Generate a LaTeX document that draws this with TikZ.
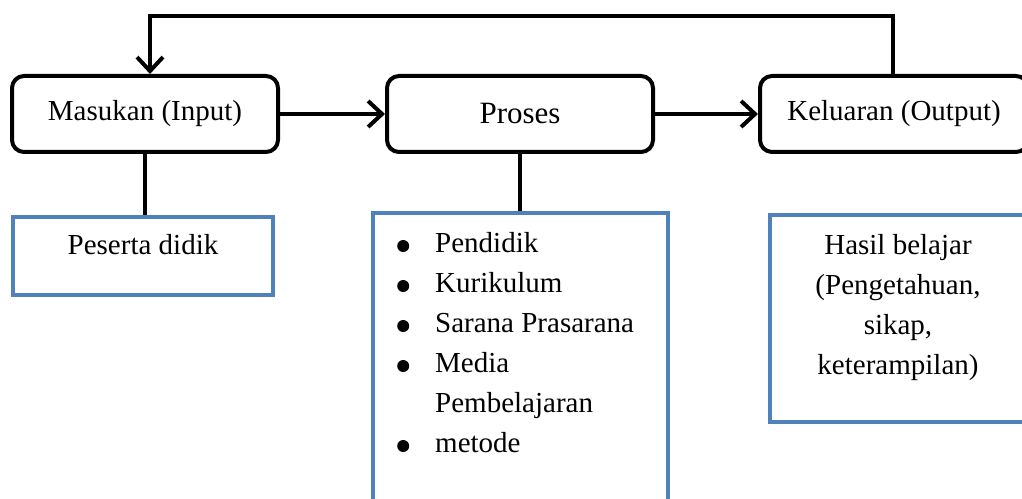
\documentclass[tikz,border=0pt]{standalone}
\usepackage{fontspec}
\setmainfont{Liberation Serif}
\usetikzlibrary{arrows.meta,calc}
\definecolor{boxblue}{RGB}{79,129,189}
\newcommand{\bigbul}{\tikz[baseline=-7pt]\fill[black] (0,0) circle (6pt);}
\tikzset{
  mainbox/.style={draw=black, line width=4pt, rounded corners=12pt, fill=white,
    minimum height=76pt, inner sep=0pt, font=\fontsize{29}{36}\selectfont},
  bluebox/.style={draw=boxblue, line width=4pt, fill=white, inner sep=0pt},
  conn/.style={draw=black, line width=4pt},
  arr/.style={conn, -{Straight Barb[length=14pt,width=26pt,line width=4pt]}},
  txt/.style={inner sep=0pt, font=\fontsize{29}{40}\selectfont}
}
\begin{document}
\begin{tikzpicture}[x=1pt,y=1pt]
\useasboundingbox (0,0) rectangle (1022,498);
\clip (0,0) rectangle (1022,498);
% blue boxes
\node[bluebox, minimum width=260pt, minimum height=78pt] (pes) at (143,242) {};
\node[bluebox, minimum width=295pt, minimum height=310pt] (lst) at (520.5,130) {};
\node[bluebox, minimum width=262pt, minimum height=207pt] (has) at (901,179.5) {};
% top boxes
\node[mainbox, minimum width=266pt] (in) at (145,384) {Masukan (Input)};
\node[mainbox, minimum width=266pt, font=\fontsize{31}{36}\selectfont] (pro) at (520,384) {Proses};
\node[mainbox, minimum width=268pt] (out) at (894,384) {Keluaran (Output)};
% texts
\node[txt, anchor=base] (pestxt) at (143,243) {Peserta didik};
\node[txt, anchor=base west] (lsttxt) at (397,245) {\begin{tabular}[t]{@{}l@{\hspace{26pt}}l@{}}
\bigbul & Pendidik\\
\bigbul & Kurikulum\\
\bigbul & Sarana Prasarana\\
\bigbul & Media\\
 & Pembelajaran\\
\bigbul & metode
\end{tabular}};
\node[txt, anchor=base] (hastxt) at (898,243) {\begin{tabular}[t]{@{}c@{}}
Hasil belajar\\
(Pengetahuan,\\
sikap,\\
keterampilan)
\end{tabular}};
% connectors
\coordinate (top) at ($(out.north)+(-1,58)$);
\coordinate (inTop) at ($(in.north)+(5,0)$);
\draw[arr] (in.east) -- (pro.west);
\draw[arr] (pro.east) -- (out.west);
\draw[conn] (in.south) -- (in.south |- pes.north);
\draw[conn] (pro.south) -- (pro.south |- lst.north);
\draw[conn] ($(out.south)+(-1,0)$) -- ($(out.south)+(-1,0)$ |- has.north);
\draw[arr, line join=miter] ($(out.north)+(-1,0)$) -- (top) -| (inTop);
\end{tikzpicture}
\end{document}
